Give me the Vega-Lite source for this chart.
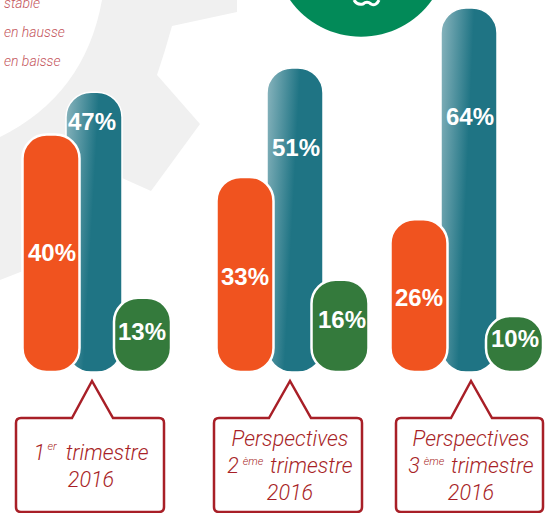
{"$schema":"https://vega.github.io/schema/vega-lite/v6.json","width":550,"height":513,"autosize":"none","padding":0,"background":"white","config":{"view":{"stroke":null}},
"datasets":{
"barres":[
{"periode":"1er trimestre 2016","serie":"stable","rang":2,"valeur":47},
{"periode":"Perspectives 2ème trimestre 2016","serie":"stable","rang":5,"valeur":51},
{"periode":"Perspectives 3ème trimestre 2016","serie":"stable","rang":8,"valeur":64},
{"periode":"1er trimestre 2016","serie":"en hausse","rang":1,"valeur":40},
{"periode":"1er trimestre 2016","serie":"en baisse","rang":3,"valeur":13},
{"periode":"Perspectives 2ème trimestre 2016","serie":"en hausse","rang":4,"valeur":33},
{"periode":"Perspectives 2ème trimestre 2016","serie":"en baisse","rang":6,"valeur":16},
{"periode":"Perspectives 3ème trimestre 2016","serie":"en hausse","rang":7,"valeur":26},
{"periode":"Perspectives 3ème trimestre 2016","serie":"en baisse","rang":9,"valeur":10}],
"lignes":[
{"bloc":1,"ligne":1.5,"texte":"1\u00a0\u00a0\u00a0\u00a0trimestre"},
{"bloc":1,"ligne":2.5,"texte":"2016"},
{"bloc":2,"ligne":1,"texte":"Perspectives"},
{"bloc":2,"ligne":2,"texte":"2\u00a0\u00a0\u00a0\u00a0\u00a0\u00a0trimestre"},
{"bloc":2,"ligne":3,"texte":"2016"},
{"bloc":3,"ligne":1,"texte":"Perspectives"},
{"bloc":3,"ligne":2,"texte":"3\u00a0\u00a0\u00a0\u00a0\u00a0\u00a0trimestre"},
{"bloc":3,"ligne":3,"texte":"2016"}],
"exposants":[
{"bloc":1,"ligne":1.5,"texte":"er"},
{"bloc":2,"ligne":2,"texte":"ème"},
{"bloc":3,"ligne":2,"texte":"ème"}],
"legende":[{"groupe":"légende","texte":"stable"},{"groupe":"légende","texte":"en hausse"},{"groupe":"légende","texte":"en baisse"}],
"decor":[{"motif":"décor"}]
},
"resolve":{"scale":{"x":"independent","y":"independent","color":"independent"}},
"layer":[
{"data":{"name":"decor"},"mark":{"type":"point","filled":true,"opacity":1,"size":4,"fill":"#f0f0f0","strokeWidth":0,"shape":"M-38,-256.5 L-38,-244.5 L-103,-230.5 Q-110,-205 -118,-181.5 L-75,-132.5 L-124,-65.5 L-153,-78.5 Q-190,-15 -252,14.5 L-275,23.5 L-275,-119.5 Q-190,-161.5 -173,-256.5 Z"},"encoding":{}},
{"data":{"name":"decor"},"mark":{"type":"point","filled":true,"opacity":1,"size":4,"fill":"#028a58","strokeWidth":0,"shape":"M15,-256.5 A87,87 0 0 0 157,-256.5 Z"},"encoding":{}},
{"data":{"name":"decor"},"mark":{"type":"point","filled":false,"opacity":1,"size":4,"stroke":"white","strokeWidth":3,"shape":"M79,-256.5 Q82,-251 88,-252.5 Q92,-256 96,-252.5 Q101,-250 104,-256.5"},"encoding":{}},
{"data":{"name":"decor"},"mark":{"type":"point","filled":false,"opacity":1,"size":4,"stroke":"#a81f27","strokeWidth":2.5,"shape":"M-203,161.5 L-183,124.5 L-162,161.5 L-116,161.5 Q-111,161.5 -111,166.5 L-111,250.5 Q-111,255.5 -116,255.5 L-254,255.5 Q-259,255.5 -259,250.5 L-259,166.5 Q-259,161.5 -254,161.5 Z M-6,161.5 L15,124.5 L36,161.5 L82,161.5 Q87,161.5 87,166.5 L87,250.5 Q87,255.5 82,255.5 L-56,255.5 Q-61,255.5 -61,250.5 L-61,166.5 Q-61,161.5 -56,161.5 Z M176,161.5 L196,124.5 L217,161.5 L263,161.5 Q268,161.5 268,166.5 L268,250.5 Q268,255.5 263,255.5 L126,255.5 Q121,255.5 121,250.5 L121,166.5 Q121,161.5 126,161.5 Z"},"encoding":{}},
{"data":{"name":"legende"},"mark":{"type":"text","font":"Roboto","fontWeight":300,"fontStyle":"italic","fontSize":14,"align":"left","baseline":"alphabetic","color":"#c4555c"},"encoding":{"x":{"field":"groupe","type":"nominal","axis":null,"scale":{"type":"point","padding":0,"range":[4,4]}},"y":{"field":"texte","type":"nominal","axis":null,"sort":["stable","en hausse","en baisse"],"scale":{"type":"point","padding":0,"range":[8,66]}},"text":{"field":"texte"}}},
{"data":{"name":"barres"},"transform":[{"filter":"datum.serie === 'stable'"}],"mark":{"type":"bar","orient":"vertical","width":56,"cornerRadius":25,"stroke":"white","strokeWidth":1.5,"fill":{"gradient":"linear","x1":0,"y1":0,"x2":0.55,"y2":0.16,"stops":[{"offset":0,"color":"#8ab5be"},{"offset":1,"color":"#1f7484"}]}},"encoding":{"x":{"field":"rang","type":"quantitative","axis":null,"scale":{"padding":0,"domain":[1,2,3,4,5,6,7,8,9],"range":[51,94,142.5,245,295,340,419,469,514.5]}},"y":{"field":"valeur","type":"quantitative","stack":null,"axis":null,"scale":{"domain":[0,10,51,64],"range":[372,316,68,8]}}}},
{"data":{"name":"barres"},"transform":[{"filter":"datum.serie !== 'stable'"}],"mark":{"type":"bar","orient":"vertical","width":57,"cornerRadius":24,"stroke":"white","strokeWidth":2.5},"encoding":{"x":{"field":"rang","type":"quantitative","axis":null,"scale":{"padding":0,"domain":[1,2,3,4,5,6,7,8,9],"range":[51,94,142.5,245,295,340,419,469,514.5]}},"y":{"field":"valeur","type":"quantitative","stack":null,"axis":null,"scale":{"domain":[0,10,51,64],"range":[372,316,68,8]}},"color":{"field":"serie","type":"nominal","legend":null,"scale":{"domain":["en hausse","en baisse"],"range":["#f0531f","#347a3c"]}}}},
{"data":{"name":"barres"},"transform":[{"calculate":"datum.valeur + '%'","as":"etiquette"}],"mark":{"type":"text","font":"Liberation Sans","fontWeight":"bold","fontSize":24,"align":"center","baseline":"middle","color":"white"},"encoding":{"x":{"field":"rang","type":"quantitative","axis":null,"scale":{"domain":[1,2,3,4,5,6,7,8,9],"range":[52,92,142,245,296,342,419,470,515]}},"y":{"field":"valeur","type":"quantitative","axis":null,"stack":null,"scale":{"domain":[10,13,16,26,33,40,47,51,64],"range":[340,333,321,299,278,254,123,149,118]}},"text":{"field":"etiquette"}}},
{"data":{"name":"lignes"},"mark":{"type":"text","font":"Roboto","fontWeight":300,"fontStyle":"italic","fontSize":21.5,"align":"center","baseline":"alphabetic","color":"#a81f27"},"encoding":{"x":{"field":"bloc","type":"quantitative","axis":null,"scale":{"domain":[1,2,3],"range":[91,290,471]}},"y":{"field":"ligne","type":"quantitative","axis":null,"scale":{"domain":[1,3],"range":[446,500]}},"text":{"field":"texte"}}},
{"data":{"name":"exposants"},"mark":{"type":"text","font":"Roboto","fontWeight":300,"fontStyle":"italic","fontSize":11,"align":"center","baseline":"alphabetic","color":"#a81f27"},"encoding":{"x":{"field":"bloc","type":"quantitative","axis":null,"scale":{"domain":[1,2,3],"range":[52,253,434]}},"y":{"field":"ligne","type":"quantitative","axis":null,"scale":{"domain":[1.5,2],"range":[450,465]}},"text":{"field":"texte"}}}
]}
